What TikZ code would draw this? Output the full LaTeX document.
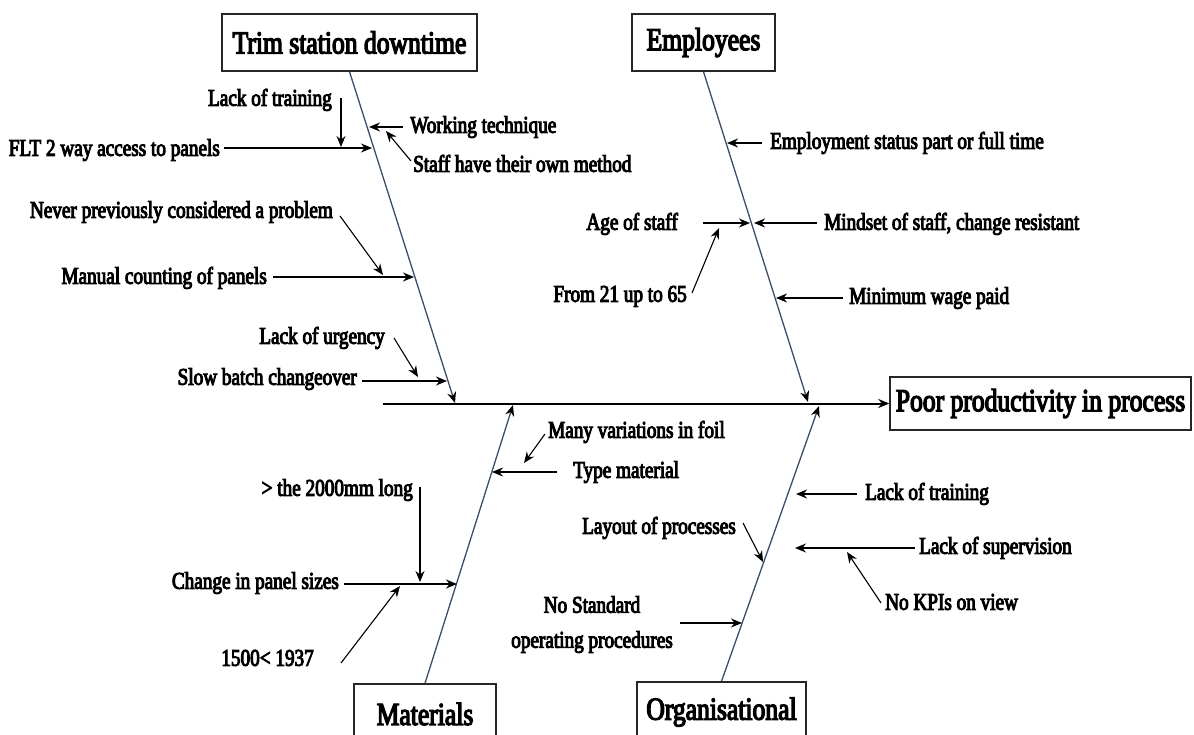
\documentclass[tikz,border=0pt]{standalone}
\usepackage{fontspec}
\setmainfont{Liberation Serif}[FakeStretch=0.8,FakeBold=4]
\usetikzlibrary{arrows.meta}
\definecolor{bonecol}{RGB}{60,78,105}
\begin{document}
\begin{tikzpicture}[x=1pt,y=-1pt,
  lbl/.style={inner sep=0pt,yshift=-3.5pt,font=\fontsize{24}{35}\selectfont},
  ttl/.style={draw=black!85,line width=1.4pt,inner sep=0pt,font=\fontsize{32}{34}\selectfont},
  arr/.style={line width=1.6pt,-{Stealth[length=11pt,width=9pt]}},
  thinarr/.style={line width=1.1pt,-{Stealth[length=11pt,width=9pt]}},
  bone/.style={draw=bonecol,line width=1.3pt},
  bonearr/.style={bone,-{Stealth[length=11pt,width=9pt,color=black]}},
  spine/.style={line width=2pt,-{Stealth[length=11pt,width=9pt]}}]
\fill[white] (0,0) rectangle (1194,735);
\useasboundingbox (0,0) rectangle (1194,735);

% category boxes and the effect
\node[ttl,minimum width=255,minimum height=57] (trim) at (349.5,42.5) {Trim station downtime};
\node[ttl,minimum width=143,minimum height=57] (emp) at (703.5,42.5) {Employees};
\node[ttl,minimum width=142,minimum height=60] (mat) at (425,714) {Materials};
\node[ttl,minimum width=169,minimum height=60] (org) at (721.5,712) {Organisational};
\node[ttl,minimum width=301,minimum height=53] (head) at (1040.5,403.5) {Poor productivity in process};

% spine and bones
\coordinate (spl) at (383,403.5);
\draw[spine] (spl) -- (head.west);
\coordinate (trimend) at (455,403);
\coordinate (empend) at (808,402);
\coordinate (matend) at (513,405);
\coordinate (orgend) at (819,406);
\draw[bonearr] (trim.south) -- (trimend);
\draw[bonearr] (emp.south) -- (empend);
\draw[bonearr] (mat.north) -- (matend);
\draw[bonearr] (org.north) -- (orgend);

% Trim station downtime causes
\node[lbl,anchor=mid east] (ltrain) at (332,100) {Lack of training};
\node[lbl,anchor=mid east] (flt) at (220,150) {FLT 2 way access to panels};
\node[lbl,anchor=mid west] (work) at (410,127) {Working technique};
\node[lbl,anchor=mid west] (staff) at (413,166) {Staff have their own method};
\node[lbl,anchor=mid east] (never) at (333,212) {Never previously considered a problem};
\node[lbl,anchor=mid east] (manual) at (267,278) {Manual counting of panels};
\node[lbl,anchor=mid east] (urg) at (385,338) {Lack of urgency};
\node[lbl,anchor=mid east] (slow) at (357,379) {Slow batch changeover};
\coordinate (ltrainA) at (341,98);   \coordinate (ltrainB) at (341,147);
\coordinate (fltA) at (224,148);     \coordinate (fltB) at (372,148);
\coordinate (workA) at (403,127);    \coordinate (workB) at (369,127);
\coordinate (staffA) at (411,161);   \coordinate (staffB) at (386,131);
\coordinate (neverA) at (340,216);   \coordinate (neverB) at (383,275);
\coordinate (manualA) at (273,277);  \coordinate (manualB) at (414,277);
\coordinate (urgA) at (394,338);     \coordinate (urgB) at (418,377);
\coordinate (slowA) at (362,381);    \coordinate (slowB) at (447,381);
\draw[thinarr] (ltrainA) -- (ltrainB);
\draw[arr] (fltA) -- (fltB);
\draw[arr] (workA) -- (workB);
\draw[thinarr] (staffA) -- (staffB);
\draw[thinarr] (neverA) -- (neverB);
\draw[arr] (manualA) -- (manualB);
\draw[thinarr] (urgA) -- (urgB);
\draw[arr] (slowA) -- (slowB);

% Employees causes
\node[lbl,anchor=mid west] (empst) at (770,143) {Employment status part or full time};
\node[lbl,anchor=mid east] (age) at (678,224) {Age of staff};
\node[lbl,anchor=mid west] (mind) at (824,224) {Mindset of staff, change resistant};
\node[lbl,anchor=mid east] (from) at (687,296) {From 21 up to 65};
\node[lbl,anchor=mid west] (wage) at (849,298) {Minimum wage paid};
\coordinate (empstA) at (762,143);   \coordinate (empstB) at (727,143);
\coordinate (ageA) at (703,223);     \coordinate (ageB) at (750,223);
\coordinate (mindA) at (817,223);    \coordinate (mindB) at (754,223);
\coordinate (fromA) at (692,293);    \coordinate (fromB) at (719,228);
\coordinate (wageA) at (843,298);    \coordinate (wageB) at (776,298);
\draw[arr] (empstA) -- (empstB);
\draw[arr] (ageA) -- (ageB);
\draw[arr] (mindA) -- (mindB);
\draw[thinarr] (fromA) -- (fromB);
\draw[arr] (wageA) -- (wageB);

% Materials causes
\node[lbl,anchor=mid west] (many) at (548,432) {Many variations in foil};
\node[lbl,anchor=mid west] (type) at (573,472) {Type material};
\node[lbl,anchor=mid east] (long) at (413,490) {> the 2000mm long};
\node[lbl,anchor=mid east] (change) at (339,583) {Change in panel sizes};
\node[lbl,anchor=mid east] (range) at (314,660) {1500< 1937};
\coordinate (manyA) at (545,434);    \coordinate (manyB) at (524,463);
\coordinate (typeA) at (557,472);    \coordinate (typeB) at (492,472);
\coordinate (longA) at (420,487);    \coordinate (longB) at (420,582);
\coordinate (changeA) at (344,584);  \coordinate (changeB) at (457,584);
\coordinate (rangeA) at (341,663);   \coordinate (rangeB) at (400,586);
\draw[thinarr] (manyA) -- (manyB);
\draw[arr] (typeA) -- (typeB);
\draw[thinarr] (longA) -- (longB);
\draw[arr] (changeA) -- (changeB);
\draw[thinarr] (rangeA) -- (rangeB);

% Organisational causes
\node[lbl,anchor=mid west] (otrain) at (865,494) {Lack of training};
\node[lbl,anchor=mid east] (layout) at (736,528) {Layout of processes};
\node[lbl,anchor=mid west] (sup) at (919,548) {Lack of supervision};
\node[lbl,anchor=mid west] (kpi) at (885,604) {No KPIs on view};
\node[lbl,align=center] (sop) at (592,621) {No Standard\\operating procedures};
\coordinate (otrainA) at (857,494);  \coordinate (otrainB) at (796,494);
\coordinate (layoutA) at (743,523);  \coordinate (layoutB) at (763,562);
\coordinate (supA) at (915,548);     \coordinate (supB) at (795,548);
\coordinate (kpiA) at (881,603);     \coordinate (kpiB) at (847,552);
\coordinate (sopA) at (680,623);     \coordinate (sopB) at (742,623);
\draw[arr] (otrainA) -- (otrainB);
\draw[thinarr] (layoutA) -- (layoutB);
\draw[arr] (supA) -- (supB);
\draw[thinarr] (kpiA) -- (kpiB);
\draw[arr] (sopA) -- (sopB);
\end{tikzpicture}
\end{document}
